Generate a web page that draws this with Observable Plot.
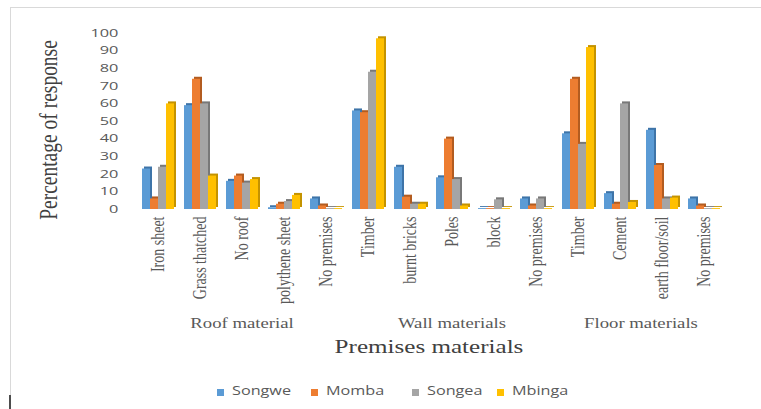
<!DOCTYPE html>
<html>
<head>
<meta charset="utf-8">
<script src="https://cdn.jsdelivr.net/npm/d3@7"></script>
<script src="https://cdn.jsdelivr.net/npm/@observablehq/plot@0.6"></script>
<style>
  body { margin: 0; background: #fff; }
  #wrap { position: relative; width: 761px; height: 409px; overflow: hidden; background: #fff; }
  #frame { position: absolute; left: 10px; top: 7px; right: -2px; bottom: -2px;
           border-left: 1px solid #d9d9d9; border-top: 1px solid #d9d9d9; pointer-events: none; }
  #tick { position: absolute; left: 9px; top: 395px; width: 2px; height: 14px; background: #4d4d4d; }
  #chart { position: absolute; left: 0; top: 0; }
  #chart svg { display: block; }
  #legend { position: absolute; left: 0; top: 375px; width: 761px; height: 34px;
            font-family: "Open Sans", sans-serif; font-size: 12px; color: #595959; }
  .item { position: absolute; top: 10px; height: 12px; line-height: 12px; white-space: nowrap; }
  .sw { position: absolute; left: 0; top: 4px; width: 7px; height: 7px; }
  .lab { position: absolute; left: 15px; top: 0; display: inline-block;
         transform: scaleX(1.35); transform-origin: 0 0; }
</style>
</head>
<body>
<div id="wrap">
  <div id="chart"></div>
  <div id="legend"></div>
  <div id="frame"></div>
  <div id="tick"></div>
</div>
<script>
// Districts (series) and their colours
const series = ["Songwe", "Momba", "Songea", "Mbinga"];
const seriesColors = ["#5B9BD5", "#ED7D31", "#A5A5A5", "#FFC000"];
const sideColors = ["#3E74A8", "#B35C20", "#787878", "#C49300"];

// Premises material categories, left to right
const categories = [
  "Iron sheet", "Grass thatched", "No roof", "polythene sheet", "No premises",
  "Timber", "burnt bricks", "Poles", "block", "No premises",
  "Timber", "Cement", "earth floor/soil", "No premises"
];
const groupNames = ["Roof material", "Wall materials", "Floor materials"];
const groupOf = [0, 0, 0, 0, 0, 1, 1, 1, 1, 1, 2, 2, 2, 2];

// Percentage of response per category
const songwe = [23, 59, 16, 1, 6, 56, 24, 18, 0.5, 6, 43, 9, 45, 6];
const momba  = [6, 74, 19, 3, 2, 55, 7, 40, 0.5, 2, 74, 3, 25, 2];
const songea = [24, 60, 15, 4.5, 0.5, 78, 3, 17, 5.5, 6, 37, 60, 6, 0.5];
const mbinga = [60, 19, 17, 8, 0.5, 97, 3, 2, 0.5, 0.5, 92, 4, 6.5, 0.5];

const yTicks = [0, 10, 20, 30, 40, 50, 60, 70, 80, 90, 100];
const xTitle = "Premises materials";
const yTitle = "Percentage of response";

const valuesBySeries = [songwe, momba, songea, mbinga];
const rows = [];
categories.forEach((c, i) => {
  series.forEach((s, j) => {
    rows.push({index: i, category: c, series: s, value: valuesBySeries[j][i]});
  });
});

const chart = Plot.plot({
  width: 761,
  height: 375,
  marginLeft: 133,
  marginRight: 33,
  marginTop: 33,
  marginBottom: 166,
  style: {background: "transparent", overflow: "visible"},
  fx: {domain: d3.range(categories.length), paddingInner: 0.25, paddingOuter: 0.125, label: null},
  x: {domain: series, padding: 0, axis: null},
  y: {domain: [0, 100], label: null},
  marks: [
    // darker side/top faces giving the bars their depth
    ...series.map((s, j) => Plot.barY(rows.filter(r => r.series === s), {
      fx: "index", x: "series", y: "value", fill: sideColors[j], dx: 2, dy: -2
    })),
    // front faces
    ...series.map((s, j) => Plot.barY(rows.filter(r => r.series === s), {
      fx: "index", x: "series", y: "value", fill: seriesColors[j]
    })),
    Plot.axisY({
      ticks: yTicks, tickSize: 0, tickPadding: 24, label: null,
      fontSize: 10.2, fontFamily: "Open Sans", fill: "#595959"
    }),
    Plot.axisFx({
      anchor: "bottom", tickFormat: i => categories[i], tickRotate: -90,
      tickSize: 0, tickPadding: 7, label: null,
      fontSize: 14, fontFamily: "Liberation Serif", fill: "#595959"
    })
  ]
});

document.getElementById("chart").appendChild(chart);
const svg = chart.tagName.toLowerCase() === "svg" ? chart : chart.querySelector("svg");
const NS = "http://www.w3.org/2000/svg";

// Widen a text element horizontally around its anchor point
function widen(el, sx, anchor) {
  const r = el.getBoundingClientRect();
  const ax = anchor === "end" ? r.right : anchor === "start" ? r.left : (r.left + r.right) / 2;
  const parent = el.parentNode;
  const pt = svg.createSVGPoint();
  pt.x = ax; pt.y = r.top;
  const local = pt.matrixTransform(parent.getScreenCTM().inverse());
  const g = document.createElementNS(NS, "g");
  g.setAttribute("transform", `translate(${local.x},0) scale(${sx},1) translate(${-local.x},0)`);
  parent.insertBefore(g, el);
  g.appendChild(el);
}

svg.querySelectorAll('g[aria-label="y-axis tick label"] text').forEach(t => widen(t, 1.6, "end"));
svg.querySelectorAll('g[aria-label="fx-axis tick label"] text').forEach(t => widen(t, 1.3, "middle"));

function addText(str, x, y, opts) {
  const t = document.createElementNS(NS, "text");
  t.textContent = str;
  t.setAttribute("text-anchor", "middle");
  t.setAttribute("font-family", "Liberation Serif");
  t.setAttribute("font-size", opts.size);
  t.setAttribute("fill", opts.fill);
  t.setAttribute("transform", `translate(${x},${y}) scale(${opts.sx},1)` + (opts.rotate ? ` rotate(${opts.rotate})` : ""));
  svg.appendChild(t);
  return t;
}

// Group labels centred under their categories, placed through the fx scale
const fx = chart.scale("fx");
groupNames.forEach((name, g) => {
  const idx = d3.range(categories.length).filter(i => groupOf[i] === g);
  const cx = d3.mean(idx, i => fx.apply(i) + fx.bandwidth / 2);
  addText(name, cx, 328, {size: 14.4, fill: "#595959", sx: 1.3});
});

// Axis titles
addText(xTitle, 429, 353, {size: 19.3, fill: "#404040", sx: 1.3});
addText(yTitle, 57, 130, {size: 19.5, fill: "#404040", sx: 1.3, rotate: -90});

// Legend
const legendX = [217, 311, 412, 497];
const legend = document.getElementById("legend");
series.forEach((s, j) => {
  const item = document.createElement("div");
  item.className = "item";
  item.style.left = legendX[j] + "px";
  item.innerHTML = `<span class="sw" style="background:${seriesColors[j]}"></span><span class="lab">${s}</span>`;
  legend.appendChild(item);
});
</script>
</body>
</html>
